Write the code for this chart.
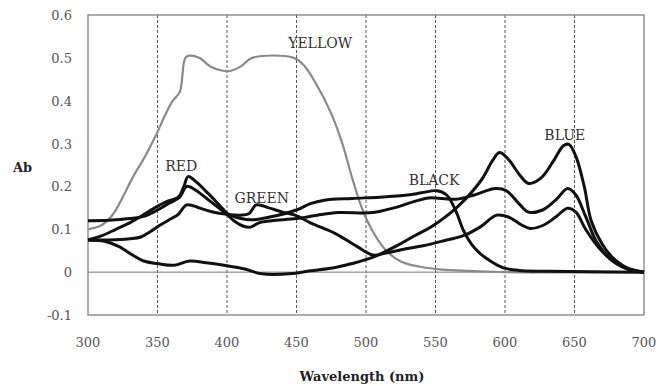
<!DOCTYPE html>
<html lang="en">
  <head>
    <meta charset="UTF-8" />
    <script src="https://cdn.jsdelivr.net/npm/d3@7"></script>
    <style>
      * {
        margin: 0;
        padding: 0;
      }
      body {
        background: #fff;
      }
      #container svg {
        display: block;
      }
    </style>
    <title>Ab spectra</title>
  </head>
  <body>
    <div id="container"></div>
  </body>
  <script>
    // [wavelength nm, Ab]
    const yellow = [
      [300, 0.1], [310, 0.11], [318, 0.135], [325, 0.175], [332, 0.22],
      [341, 0.27], [349, 0.32], [356, 0.37], [361, 0.4], [366, 0.42],
      [370, 0.5], [373, 0.505], [380, 0.5], [388, 0.48], [397, 0.47],
      [403, 0.47], [410, 0.48], [418, 0.5], [448, 0.5], [456, 0.48],
      [464, 0.44], [475, 0.37], [483, 0.3], [490, 0.22], [497, 0.15],
      [504, 0.1], [514, 0.052], [525, 0.025], [540, 0.012], [555, 0.006],
      [575, 0.003], [600, 0.0], [700, 0.0],
    ];
    const red = [
      [300, 0.075], [310, 0.085], [320, 0.1], [330, 0.115], [338, 0.13],
      [348, 0.15], [357, 0.165], [365, 0.175], [369, 0.2], [372, 0.223],
      [378, 0.21], [386, 0.185], [395, 0.155], [401, 0.135], [410, 0.125],
      [418, 0.122], [430, 0.128], [450, 0.145], [460, 0.16], [470, 0.168],
      [490, 0.172], [510, 0.175], [530, 0.18], [540, 0.185], [551, 0.19],
      [558, 0.18], [565, 0.14], [570, 0.098], [576, 0.065], [582, 0.044],
      [590, 0.025], [599, 0.01], [610, 0.004], [630, 0.002], [700, 0.0],
    ];
    const green = [
      [300, 0.075], [315, 0.075], [330, 0.078], [338, 0.082], [345, 0.095],
      [352, 0.11], [360, 0.125], [365, 0.135], [371, 0.157], [380, 0.15],
      [389, 0.141], [400, 0.135], [410, 0.133], [416, 0.137], [421, 0.157],
      [430, 0.15], [440, 0.14], [449, 0.133], [460, 0.115], [478, 0.09],
      [494, 0.059], [505, 0.04], [515, 0.045], [530, 0.055], [542, 0.062],
      [558, 0.075], [570, 0.085], [582, 0.105], [594, 0.133], [603, 0.128],
      [612, 0.11], [618, 0.102], [628, 0.11], [637, 0.13], [645, 0.149],
      [651, 0.14], [658, 0.1], [668, 0.055], [680, 0.02], [690, 0.005],
      [700, 0.0],
    ];
    const black = [
      [300, 0.12], [315, 0.121], [330, 0.125], [340, 0.13], [350, 0.145],
      [358, 0.16], [366, 0.175], [371, 0.2], [378, 0.19], [388, 0.165],
      [398, 0.14], [405, 0.12], [412, 0.107], [417, 0.105], [423, 0.115],
      [432, 0.12], [450, 0.125], [465, 0.133], [480, 0.139], [505, 0.139],
      [520, 0.15], [535, 0.165], [545, 0.173], [555, 0.172], [565, 0.17],
      [578, 0.18], [593, 0.195], [601, 0.19], [610, 0.16], [617, 0.14],
      [627, 0.145], [637, 0.17], [645, 0.195], [651, 0.18], [658, 0.13],
      [666, 0.07], [676, 0.03], [687, 0.01], [700, 0.0],
    ];
    const blue = [
      [300, 0.075], [312, 0.072], [322, 0.06], [332, 0.04], [340, 0.026],
      [350, 0.02], [362, 0.016], [373, 0.026], [385, 0.022], [400, 0.015],
      [412, 0.008], [425, -0.004], [445, -0.004], [460, 0.003], [478, 0.011],
      [490, 0.02], [506, 0.036], [523, 0.063], [535, 0.085], [547, 0.106],
      [566, 0.153], [583, 0.215], [591, 0.26], [596, 0.279], [602, 0.265],
      [611, 0.225], [617, 0.207], [626, 0.22], [635, 0.26], [642, 0.295],
      [646, 0.298], [651, 0.27], [657, 0.2], [662, 0.12], [670, 0.065],
      [677, 0.035], [685, 0.015], [692, 0.005], [700, 0.0],
    ];

    const seriesNames = ['YELLOW', 'RED', 'GREEN', 'BLACK', 'BLUE'];
    const seriesData = [yellow, red, green, black, blue];
    // label anchor points [nm, Ab]
    const labelPos = [
      [467, 0.522], [367, 0.236], [425, 0.161], [549, 0.203], [643, 0.308],
    ];
    const xTicks = [300, 350, 400, 450, 500, 550, 600, 650, 700];
    const yTicks = [-0.1, 0, 0.1, 0.2, 0.3, 0.4, 0.5, 0.6];

    const width = 671;
    const height = 386;
    const margin = { top: 15, right: 27, bottom: 71, left: 88 };

    const x = d3
      .scaleLinear()
      .domain([300, 700])
      .range([margin.left, width - margin.right]);
    const y = d3
      .scaleLinear()
      .domain([-0.1, 0.6])
      .range([height - margin.bottom, margin.top]);

    const svg = d3
      .select('#container')
      .append('svg')
      .attr('width', width)
      .attr('height', height);

    const serif = "'DejaVu Serif', 'Liberation Serif', serif";

    // dashed vertical grid
    svg
      .append('g')
      .selectAll('line')
      .data(xTicks.slice(1, -1))
      .join('line')
      .attr('x1', (d) => x(d))
      .attr('x2', (d) => x(d))
      .attr('y1', y(0.6))
      .attr('y2', y(-0.1))
      .attr('stroke', '#555')
      .attr('stroke-width', 1)
      .attr('stroke-dasharray', '3,2');

    // zero line
    svg
      .append('line')
      .attr('x1', x(300))
      .attr('x2', x(700))
      .attr('y1', y(0))
      .attr('y2', y(0))
      .attr('stroke', '#777')
      .attr('stroke-width', 1);

    // frame
    svg
      .append('rect')
      .attr('x', x(300))
      .attr('y', y(0.6))
      .attr('width', x(700) - x(300))
      .attr('height', y(-0.1) - y(0.6))
      .attr('fill', 'none')
      .attr('stroke', '#808080')
      .attr('stroke-width', 1.3);

    // y tick labels (plain hyphen for the minus, as in the original)
    svg
      .append('g')
      .selectAll('text')
      .data(yTicks)
      .join('text')
      .attr('x', x(300) - 16)
      .attr('y', (d) => y(d) + 5)
      .attr('text-anchor', 'end')
      .attr('font-family', serif)
      .attr('font-size', 13)
      .attr('fill', '#555')
      .text((d) => (d === 0 ? '0' : d.toFixed(1)));

    // x tick labels
    svg
      .append('g')
      .selectAll('text')
      .data(xTicks)
      .join('text')
      .attr('x', (d) => x(d))
      .attr('y', y(-0.1) + 32)
      .attr('text-anchor', 'middle')
      .attr('font-family', serif)
      .attr('font-size', 13)
      .attr('fill', '#555')
      .text((d) => d);

    // axis titles
    svg
      .append('text')
      .text('Ab')
      .attr('x', 13)
      .attr('y', 172)
      .attr('font-family', serif)
      .attr('font-weight', 'bold')
      .attr('font-size', 13)
      .attr('fill', '#222');

    svg
      .append('text')
      .text('Wavelength (nm)')
      .attr('x', 362)
      .attr('y', 381)
      .attr('text-anchor', 'middle')
      .attr('font-family', serif)
      .attr('font-weight', 'bold')
      .attr('font-size', 13)
      .attr('fill', '#222');

    // curves
    const line = d3
      .line()
      .x((d) => x(d[0]))
      .y((d) => y(d[1]))
      .curve(d3.curveCatmullRom.alpha(0.5));

    svg
      .append('g')
      .selectAll('path')
      .data(seriesData)
      .join('path')
      .attr('d', (d) => line(d))
      .attr('fill', 'none')
      .attr('stroke', (d, i) => (i === 0 ? '#8a8a8a' : '#111'))
      .attr('stroke-width', (d, i) => (i === 0 ? 2.2 : 3))
      .attr('stroke-linejoin', 'round');

    // series labels
    svg
      .append('g')
      .selectAll('text')
      .data(seriesNames)
      .join('text')
      .attr('x', (d, i) => x(labelPos[i][0]))
      .attr('y', (d, i) => y(labelPos[i][1]))
      .attr('text-anchor', 'middle')
      .attr('font-family', serif)
      .attr('font-size', 14)
      .attr('fill', '#333')
      .text((d) => d);
  </script>
</html>
